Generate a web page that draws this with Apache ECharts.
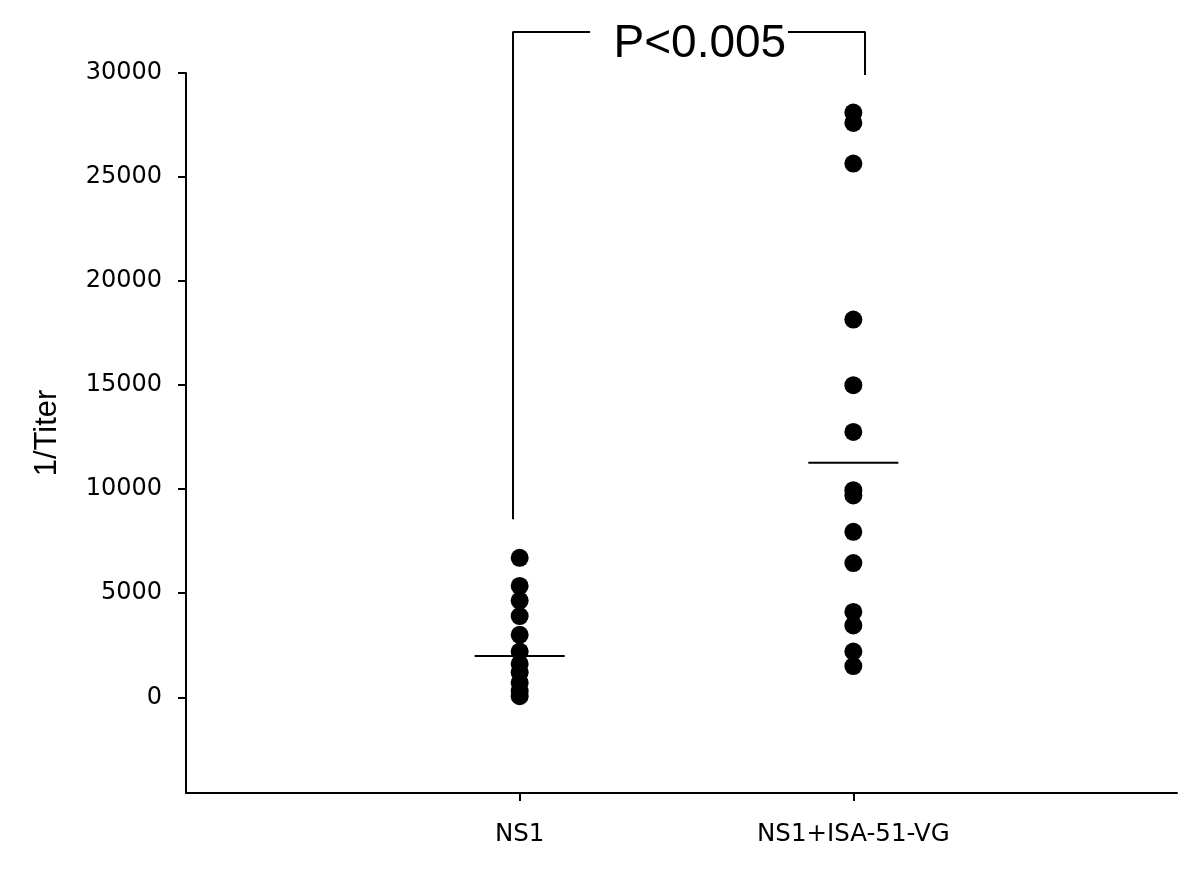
<!DOCTYPE html>
<html>
<head>
<meta charset="utf-8">
<script src="https://cdn.jsdelivr.net/npm/echarts@6/dist/echarts.min.js"></script>
<style>
    html, body { margin: 0; padding: 0; background: #fff; }
    #main { width: 1200px; height: 876px; }
</style>
</head>
<body>
<div id="main"></div>
<script>
// groups sit at x = 1 and x = 2 on a value axis
var groups = ['NS1', 'NS1+ISA-51-VG'];
var ns1Values = [6700, 5350, 4650, 3900, 3000, 2200, 1600, 1200, 700, 300, 50];
var isaValues = [28100, 27600, 25650, 18150, 15000, 12750, 9950, 9700, 7950, 6450, 4100, 3450, 2200, 1500];
var groupMeans = [1980, 11270];
var yTicks = [0, 5000, 10000, 15000, 20000, 25000, 30000];
// significance bracket (data coords) and its label
var bracketLeft = [[0.98, 8550], [0.98, 31970], [1.211, 31970]];
var bracketRight = [[1.804, 31970], [2.035, 31970], [2.035, 29900]];
var pLabel = 'P<0.005';
var pLabelPos = [1.54, 30260];

var chart = echarts.init(document.getElementById('main'));

function toPoints(x, values) {
    return values.map(function (v) { return [x, v]; });
}

var meanSeries = groupMeans.map(function (m, i) {
    return {
        type: 'line',
        data: [[i + 1 - 0.135, m], [i + 1 + 0.135, m]],
        symbol: 'none',
        lineStyle: { color: '#000', width: 2 },
        silent: true
    };
});

var option = {
    animation: false,
    grid: {
        left: 186,
        right: 23,
        top: 73,
        bottom: 83,
        containLabel: false,
        outerBoundsMode: 'none'
    },
    xAxis: {
        type: 'value',
        min: 0,
        max: 2.97,
        splitLine: { show: false },
        axisLine: { show: true, onZero: false, lineStyle: { color: '#000', width: 2 } },
        axisTick: {
            show: true,
            customValues: [1, 2],
            length: 8,
            lineStyle: { color: '#000', width: 2 }
        },
        axisLabel: {
            customValues: [1, 2],
            margin: 29,
            color: '#000',
            fontFamily: 'DejaVu Sans',
            fontSize: 24.5,
            formatter: function (v) { return groups[Math.round(v) - 1] || ''; }
        }
    },
    yAxis: {
        type: 'value',
        min: -4600,
        max: 30000,
        name: '1/Titer',
        nameLocation: 'middle',
        nameGap: 123,
        nameRotate: 90,
        nameTextStyle: { color: '#000', fontFamily: 'Arial', fontSize: 31 },
        splitLine: { show: false },
        axisLine: { show: true, onZero: false, lineStyle: { color: '#000', width: 2 } },
        axisTick: {
            show: true,
            customValues: yTicks,
            length: 8,
            lineStyle: { color: '#000', width: 2 }
        },
        axisLabel: {
            customValues: yTicks,
            margin: 24,
            color: '#000',
            fontFamily: 'DejaVu Sans',
            fontSize: 24,
            formatter: function (v) { return String(v); }
        }
    },
    series: [{
        type: 'scatter',
        data: toPoints(1, ns1Values),
        symbolSize: 18,
        itemStyle: { color: '#000', opacity: 1 }
    }, {
        type: 'scatter',
        data: toPoints(2, isaValues),
        symbolSize: 18,
        itemStyle: { color: '#000', opacity: 1 }
    }].concat(meanSeries).concat([{
        type: 'line',
        data: bracketLeft,
        symbol: 'none',
        clip: false,
        lineStyle: { color: '#000', width: 2 },
        silent: true
    }, {
        type: 'line',
        data: bracketRight,
        symbol: 'none',
        clip: false,
        lineStyle: { color: '#000', width: 2 },
        silent: true
    }, {
        type: 'scatter',
        data: [pLabelPos],
        symbolSize: 1,
        clip: false,
        itemStyle: { color: '#fff' },
        label: {
            show: true,
            position: 'top',
            distance: 0,
            formatter: pLabel,
            color: '#000',
            opacity: 1,
            textBorderWidth: 0,
            fontFamily: 'Arial',
            fontSize: 46
        },
        silent: true
    }])
};

chart.setOption(option);
</script>
</body>
</html>
